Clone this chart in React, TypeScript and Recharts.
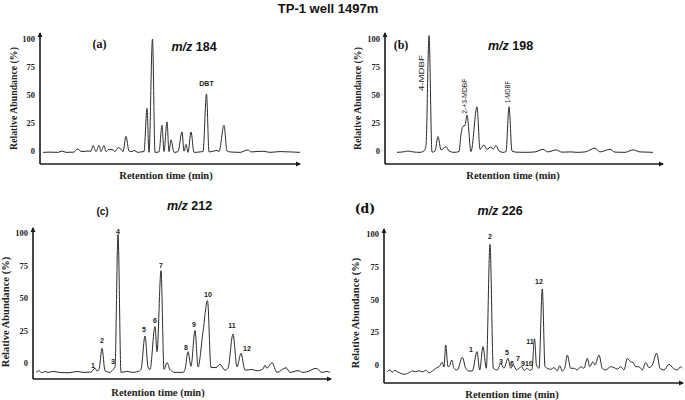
import React from 'react';
import { ComposedChart, Line, Scatter, XAxis, YAxis, ReferenceDot } from 'recharts';

// ---------- shared ----------
const abundanceTicks = [0, 25, 50, 75, 100];

// ---------- (a) m/z 184 ----------
const timeA = [3, 10, 18, 22, 26, 34, 37, 42, 48, 51, 53, 56, 59, 61, 64, 66, 69, 73, 75, 78, 81, 83, 86, 89, 92, 94, 98, 101, 104, 107, 109, 112.5, 115, 119, 122, 124, 127, 129, 131, 134, 138, 142, 144, 146, 148, 151, 154, 160, 163, 166.5, 169, 173, 177, 179, 184, 187, 190, 200, 208, 211, 223, 230, 240, 250, 260];
const abundA = [-1.2, -1.0, -1.2, 0, -1.2, -1.0, 1.8, -0.5, 0, -0.2, 5, -0.5, 5, -0.5, 5, -0.5, 1.5, 1.0, -0.5, 3, 1.5, -0.5, 13, 0, -0.5, 0.5, -1.2, -0.8, -0.5, 38, -1.2, 100, -1.2, -0.8, 23, -0.5, 26, -0.5, 10, -1.2, -0.5, 17, -0.2, 6, -1.2, 17, -1.2, -0.8, -0.5, 51, -0.8, -0.2, 0.5, -0.5, 23, 0, -0.8, -1.2, 1, -0.8, -0.2, -1.2, -0.5, -0.8, -1.2];
const labelTextA = ['DBT'];
const labelTimeA = [166.5];
const labelAbundA = [60];

// ---------- (b) m/z 198 ----------
const timeB = [12, 18, 23, 28, 35, 39, 41, 44, 47, 50, 53, 56, 61, 64, 69, 74, 76, 78, 80, 82, 86, 92, 95, 99, 102, 106, 108, 111, 114, 118, 121, 124, 127, 131, 140, 150, 158, 163, 171, 177, 186, 192, 200, 210, 215, 225, 230, 240, 248, 255, 262, 268];
const abundB = [-1.2, -0.8, 0, -0.8, -1.2, 0, 5, 103, -1.0, 0, 12.8, 1, 3.8, 0, -1.2, -0.5, 15, 22, 23, 32, -0.5, 39.5, 1.5, 5.4, 1.5, 3.8, 1.5, 4.9, 0, -1.2, -0.5, 39.5, 0, -1.0, -1.2, -0.8, 1.5, -0.8, 1, -1.0, -0.8, -1.2, -0.8, 2.5, -0.8, 1.5, -1.0, -1.2, 1, -0.8, -1.0, -1.2];
const labelTextB = ['4-MDBF', '2-+3-MDBF', '1-MDBF'];
const labelTimeB = [37, 80, 123];
const labelAbundB = [69.6, 49, 52.7];

// ---------- (c) m/z 212 ----------
const timeC = [3, 6, 9, 12, 15, 20, 26, 36, 44, 50, 58, 62, 64, 66, 69, 72, 77, 80, 82, 85, 88, 94, 100, 105, 108, 112, 115, 117, 122, 124, 128, 131, 134, 137, 142, 150, 152, 155, 158, 162, 165, 170, 174.5, 178, 183, 187, 192, 195, 200, 204, 208, 212, 219, 224, 230, 232, 234, 239, 244, 253, 257, 265, 270, 275, 283, 289, 294, 297];
const abundC = [-7.2, -6, -7.5, -6.5, -7.2, -6.5, -7.2, -7.5, -6.5, -7.2, -7, -4, -6, -5, 11.3, -6, -7.2, -5, -3, 99, -7.2, -6.5, -7.2, -6.5, -5, 20.8, -3, -5, 28, 8.7, 71, -5, 0.3, -5, -7.2, -7.2, -5, 8.7, -2.5, 25, -3, 24, 48, -3.5, -3.5, -1, -5.5, -4, 22.3, -3, 7.4, -5.5, -5, -6, -4.5, -1.8, -4, 0.3, -7.2, -3.6, -7.2, -5.9, -7.2, -6.5, -4.1, -7.2, -6.5, -7.2];
const labelTextC = ['1', '2', '3', '4', '5', '6', '7', '8', '9', '10', '11', '12'];
const labelTimeC = [60, 69, 80, 85, 111, 122, 128, 153, 161, 175, 199, 214];
const labelAbundC = [-2.3, 17, 1.5, 101, 25.4, 33, 75, 12.3, 30, 53, 28.5, 10.8];

// ---------- (d) m/z 226 ----------
const timeD = [3.3, 6, 8.3, 10.7, 13.3, 16.7, 20, 25, 28.3, 31.7, 35, 38.3, 41.7, 45, 48.3, 51.7, 55, 58.3, 60, 61.7, 64, 65.7, 67.7, 70, 73.3, 78.3, 81.7, 85, 88.3, 93, 95.7, 99, 102.3, 106, 109.3, 113.3, 116.7, 120, 124, 126.7, 129.3, 132.7, 135, 137.7, 140, 143.3, 145.7, 148, 150.5, 152.5, 155, 158.3, 161, 163.3, 166.7, 170, 173.3, 175.7, 178.3, 180.7, 183.3, 186.7, 190, 193.3, 196.7, 200, 203.3, 205.7, 209, 211, 215, 218.3, 221.7, 226.7, 230, 233.3, 236.7, 240, 243.3, 246.7, 249, 251.7, 255, 258.3, 261.7, 265, 268.3, 272.7, 276, 280, 285, 289.3, 293.3, 296.7, 298.3];
const abundD = [-5.1, -3.8, -5.6, -4.1, -5.1, -6.3, -7.1, -5.9, -4.6, -5.1, -4.4, -5.3, -4.1, -5.9, -4.6, -2.5, -1.3, 2, -1.5, 15.3, -1.3, -0.5, 3.8, -2.5, -3.8, 5.9, -2.5, -4.6, -4.6, 10.2, -3.8, 14, -2.5, 92, -2.5, -3.8, 1.3, -2.5, 5.1, -2.5, 0, -3.8, -2.5, -1.3, -4.1, -2.5, -4.1, -3, 20, 0, -2.5, 58, -1.3, -2.5, -3.3, -2.0, -4.4, -0.5, -4.6, -2.5, 7.6, -2.5, -2.5, -3.8, -1.3, -2.5, 5.1, -1.3, 2.5, 0, 7.6, -2.5, -3.8, -1.3, -2.0, -3.1, -1.3, -3.8, 5.1, 2.5, 2.0, -1.3, -1.3, -3.8, 2, -2.0, 0, 8.9, -2.5, -3.8, 0.5, -2.5, -3.8, -1.3, -2.5];
const labelTextD = ['1', '2', '3', '5', '6', '7', '9', '10', '11', '12'];
const labelTimeD = [87, 106, 117, 123, 128, 134, 139, 145, 146, 155];
const labelAbundD = [11.5, 97.7, 3, 9.2, 1.5, 5.3, 1.5, 1.5, 18.3, 64];

// ---------- styling helpers ----------
const SERIF = "'Liberation Serif', 'Times New Roman', serif";
const SANS = "'Liberation Sans', Arial, sans-serif";
const AXIS_COLOR = '#1a1a1a';
const TRACE_COLOR = '#2b2b2b';

const rotatedLen: Record<string, number> = { '4-MDBF': 36, '2-+3-MDBF': 35, '1-MDBF': 22 };

const PeakLabel = (props: any) => {
  const { cx, cy, payload } = props;
  if (cx == null || cy == null) return null;
  return (
    <text x={cx} y={cy} textAnchor="middle" dominantBaseline="central" fontSize={7} fontWeight={700} fontFamily={SANS} fill="#222">
      {payload.text}
    </text>
  );
};

const RotatedLabel = (props: any) => {
  const { cx, cy, payload } = props;
  if (cx == null || cy == null) return null;
  return (
    <text
      x={cx}
      y={cy}
      transform={`rotate(-90 ${cx} ${cy})`}
      textAnchor="middle"
      dominantBaseline="central"
      fontSize={7.5}
      fontFamily={SANS}
      fill="#1e1e1e"
      textLength={rotatedLen[payload.text]}
      lengthAdjust="spacingAndGlyphs"
    >
      {payload.text}
    </text>
  );
};

const RightArrow = (props: any) => {
  const { cx, cy } = props;
  if (cx == null || cy == null) return null;
  return <polygon points={`${cx + 1},${cy} ${cx - 4},${cy - 2.5} ${cx - 4},${cy + 2.5}`} fill={AXIS_COLOR} />;
};

const UpArrow = (props: any) => {
  const { cx, cy } = props;
  if (cx == null || cy == null) return null;
  return <polygon points={`${cx},${cy - 1} ${cx - 2.5},${cy + 4} ${cx + 2.5},${cy + 4}`} fill={AXIS_COLOR} />;
};

type PanelProps = {
  left: number;
  top: number;
  width: number;
  height: number;
  margin: { top: number; right: number; bottom: number; left: number };
  xAxisHeight: number;
  xMax: number;
  yMin: number;
  yMax: number;
  time: number[];
  abund: number[];
  labelText: string[];
  labelTime: number[];
  labelAbund: number[];
  rotated?: boolean;
  yTitle: { x: number; y: number; size: number };
  xTitle: { x: number; y: number; size: number };
};

function Panel(p: PanelProps) {
  const rows = p.time.map((t, i) => ({ t, v: p.abund[i] }));
  const labelRows = p.labelText.map((text, i) => ({ t: p.labelTime[i], v: p.labelAbund[i], text }));
  return (
    <div style={{ position: 'absolute', left: p.left, top: p.top, width: p.width, height: p.height }}>
      <ComposedChart width={p.width} height={p.height} data={rows} margin={p.margin}>
        <XAxis
          type="number"
          dataKey="t"
          domain={[0, p.xMax]}
          allowDataOverflow
          tick={false}
          tickLine={false}
          height={p.xAxisHeight}
          axisLine={{ stroke: AXIS_COLOR, strokeWidth: 1.6 }}
          label={{
            content: () => (
              <text x={p.xTitle.x} y={p.xTitle.y} textAnchor="middle" dominantBaseline="central" fontFamily={SERIF} fontWeight={700} fontSize={p.xTitle.size} fill="#222">
                Retention time (min)
              </text>
            ),
          }}
        />
        <YAxis
          type="number"
          domain={[p.yMin, p.yMax]}
          allowDataOverflow
          ticks={abundanceTicks}
          interval={0}
          tickLine={false}
          tickSize={0}
          tickMargin={5}
          width={30}
          axisLine={{ stroke: AXIS_COLOR, strokeWidth: 1.6 }}
          tick={{ fontSize: 8.5, fontFamily: SERIF, fontWeight: 700, fill: '#222' }}
          label={{
            content: () => (
              <text
                x={p.yTitle.x}
                y={p.yTitle.y}
                transform={`rotate(-90 ${p.yTitle.x} ${p.yTitle.y})`}
                textAnchor="middle"
                dominantBaseline="central"
                fontFamily={SERIF}
                fontWeight={700}
                fontSize={p.yTitle.size}
                fill="#222"
              >
                Relative Abundance (%)
              </text>
            ),
          }}
        />
        <Line type="monotone" dataKey="v" stroke={TRACE_COLOR} strokeWidth={1} dot={false} activeDot={false} isAnimationActive={false} />
        <Scatter data={labelRows} dataKey="v" shape={p.rotated ? RotatedLabel : PeakLabel} isAnimationActive={false} />
        <ReferenceDot x={p.xMax} y={p.yMin} r={0} shape={RightArrow} ifOverflow="visible" />
        <ReferenceDot x={0} y={p.yMax} r={0} shape={UpArrow} ifOverflow="visible" />
      </ComposedChart>
    </div>
  );
}

export default function App() {
  return (
    <div style={{ position: 'absolute', left: 0, top: 0, width: 685, height: 400, background: '#fff', overflow: 'hidden' }}>
      <Panel
        left={0}
        top={20}
        width={340}
        height={175}
        margin={{ top: 13, right: 40, bottom: 11, left: 10 }}
        xAxisHeight={20}
        xMax={260}
        yMin={-11.6}
        yMax={105.4}
        time={timeA}
        abund={abundA}
        labelText={labelTextA}
        labelTime={labelTimeA}
        labelAbund={labelAbundA}
        yTitle={{ x: 13.5, y: 78.5, size: 9.8 }}
        xTitle={{ x: 166, y: 155, size: 10.5 }}
      />
      <Panel
        left={340}
        top={20}
        width={345}
        height={175}
        margin={{ top: 13, right: 22, bottom: 11, left: 15 }}
        xAxisHeight={20}
        xMax={278}
        yMin={-11.6}
        yMax={105.4}
        time={timeB}
        abund={abundB}
        labelText={labelTextB}
        labelTime={labelTimeB}
        labelAbund={labelAbundB}
        rotated
        yTitle={{ x: 17, y: 78.5, size: 9.8 }}
        xTitle={{ x: 173, y: 155, size: 10.5 }}
      />
      <Panel
        left={0}
        top={215}
        width={340}
        height={185}
        margin={{ top: 13, right: 9, bottom: 1, left: 3 }}
        xAxisHeight={20}
        xMax={298}
        yMin={-12.3}
        yMax={103.85}
        time={timeC}
        abund={abundC}
        labelText={labelTextC}
        labelTime={labelTimeC}
        labelAbund={labelAbundC}
        yTitle={{ x: 5.5, y: 97, size: 10.5 }}
        xTitle={{ x: 158, y: 177, size: 10.5 }}
      />
      <Panel
        left={340}
        top={215}
        width={345}
        height={185}
        margin={{ top: 14, right: 2, bottom: 0, left: 14 }}
        xAxisHeight={17}
        xMax={299}
        yMin={-13.74}
        yMax={103.8}
        time={timeD}
        abund={abundD}
        labelText={labelTextD}
        labelTime={labelTimeD}
        labelAbund={labelAbundD}
        yTitle={{ x: 15.5, y: 98, size: 10.5 }}
        xTitle={{ x: 172, y: 179, size: 10.5 }}
      />
      <svg width={685} height={400} style={{ position: 'absolute', left: 0, top: 0, pointerEvents: 'none' }}>
        <text x={328} y={12.5} textAnchor="middle" fontFamily={SANS} fontWeight={700} fontSize={13} fill="#111">
          TP-1 well 1497m
        </text>
        <text x={99.5} y={44} textAnchor="middle" dominantBaseline="central" fontFamily={SERIF} fontWeight={700} fontSize={12} fill="#111">(a)</text>
        <text x={194} y={47} textAnchor="middle" dominantBaseline="central" fontFamily={SANS} fontWeight={700} fontSize={12.5} fill="#111">
          <tspan fontStyle="italic">m/z</tspan>{' 184'}
        </text>
        <text x={401} y={44.5} textAnchor="middle" dominantBaseline="central" fontFamily={SERIF} fontWeight={700} fontSize={12} fill="#111">(b)</text>
        <text x={510.5} y={46} textAnchor="middle" dominantBaseline="central" fontFamily={SANS} fontWeight={700} fontSize={12.5} fill="#111">
          <tspan fontStyle="italic">m/z</tspan>{' 198'}
        </text>
        <text x={102.5} y={211} textAnchor="middle" dominantBaseline="central" fontFamily={SANS} fontWeight={700} fontSize={10} fill="#111">(c)</text>
        <text x={189.5} y={205.5} textAnchor="middle" dominantBaseline="central" fontFamily={SANS} fontWeight={700} fontSize={12.5} fill="#111">
          <tspan fontStyle="italic">m/z</tspan>{' 212'}
        </text>
        <text x={365} y={208} textAnchor="middle" dominantBaseline="central" fontFamily="'DejaVu Serif', serif" fontWeight={700} fontSize={12.5} fill="#111">(d)</text>
        <text x={500} y={210.5} textAnchor="middle" dominantBaseline="central" fontFamily={SANS} fontWeight={700} fontSize={12.5} fill="#111">
          <tspan fontStyle="italic">m/z</tspan>{' 226'}
        </text>
      </svg>
    </div>
  );
}
